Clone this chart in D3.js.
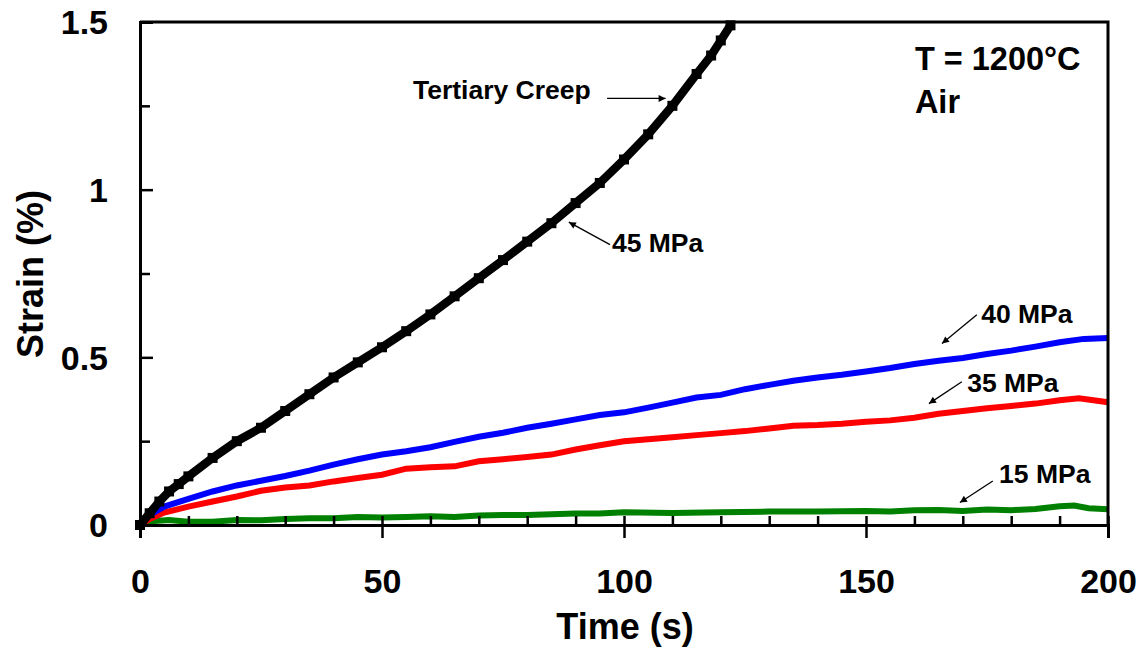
<!DOCTYPE html>
<html>
<head>
<meta charset="utf-8">
<script src="https://d3js.org/d3.v7.min.js"></script>
<style>
  body { margin: 0; background: #fff; }
  text { font-family: "Liberation Sans", Arial, sans-serif; font-weight: bold; fill: #000; }
</style>
</head>
<body>
<div id="chart"></div>
<script>
// strain (%) vs time (s) at 1200 C in air
var time45 = [0, 2, 4, 6, 8, 10, 15, 20, 25, 30, 35, 40, 45, 50, 55, 60, 65, 70, 75, 80, 85, 90, 95, 100, 105, 110, 115, 118, 120, 122];
var strain45 = [0, 0.035, 0.07, 0.1, 0.122, 0.145, 0.2, 0.25, 0.29, 0.34, 0.39, 0.44, 0.485, 0.53, 0.578, 0.628, 0.682, 0.736, 0.79, 0.845, 0.9, 0.96, 1.02, 1.09, 1.165, 1.25, 1.345, 1.40, 1.445, 1.49];

var time40 = [0, 2, 5, 10, 15, 20, 25, 30, 35, 40, 45, 50, 55, 60, 65, 70, 75, 80, 85, 90, 95, 100, 105, 110, 115, 120, 125, 130, 135, 140, 145, 150, 155, 160, 165, 170, 175, 180, 185, 190, 195, 200];
var strain40 = [0, 0.03, 0.055, 0.078, 0.1, 0.118, 0.132, 0.146, 0.162, 0.18, 0.196, 0.21, 0.22, 0.232, 0.248, 0.263, 0.275, 0.29, 0.302, 0.315, 0.328, 0.336, 0.35, 0.365, 0.38, 0.388, 0.405, 0.418, 0.43, 0.44, 0.448, 0.458, 0.468, 0.48, 0.49, 0.498, 0.51, 0.52, 0.532, 0.545, 0.555, 0.558];

var time35 = [0, 2, 5, 10, 15, 20, 25, 30, 35, 40, 45, 50, 55, 60, 65, 70, 75, 80, 85, 90, 95, 100, 105, 110, 115, 120, 125, 130, 135, 140, 145, 150, 155, 160, 165, 170, 175, 180, 185, 190, 194, 197, 200];
var strain35 = [0, 0.018, 0.037, 0.055, 0.07, 0.085, 0.102, 0.112, 0.118, 0.13, 0.14, 0.15, 0.168, 0.172, 0.175, 0.19, 0.196, 0.203, 0.21, 0.225, 0.238, 0.25, 0.256, 0.262, 0.268, 0.274, 0.28, 0.288, 0.296, 0.298, 0.302, 0.308, 0.312, 0.32, 0.332, 0.34, 0.348, 0.355, 0.362, 0.372, 0.378, 0.372, 0.366];

var time15 = [0, 3, 6, 10, 15, 20, 25, 30, 35, 40, 45, 50, 55, 60, 65, 70, 75, 80, 85, 90, 95, 100, 110, 120, 130, 140, 150, 155, 160, 165, 170, 175, 180, 185, 190, 193, 196, 200];
var strain15 = [0, 0.012, 0.015, 0.01, 0.01, 0.015, 0.014, 0.018, 0.02, 0.02, 0.024, 0.022, 0.024, 0.026, 0.024, 0.028, 0.03, 0.03, 0.032, 0.034, 0.034, 0.038, 0.036, 0.038, 0.04, 0.04, 0.042, 0.04, 0.044, 0.045, 0.042, 0.046, 0.044, 0.048, 0.056, 0.058, 0.05, 0.047];

var xTicks = [0, 50, 100, 150, 200];
var yTicks = [0, 0.5, 1, 1.5];
var yTickLabels = ["0", "0.5", "1", "1.5"];

var width = 1146, height = 649;
var margin = {left: 140, right: 38, top: 22, bottom: 124};

var svg = d3.select("#chart").append("svg").attr("width", width).attr("height", height);

var x = d3.scaleLinear().domain([0, 200]).range([margin.left, width - margin.right]);
var y = d3.scaleLinear().domain([0, 1.5]).range([height - margin.bottom, margin.top]);

var series = [
  {t: time15, s: strain15, color: "#008000", w: 6},
  {t: time35, s: strain35, color: "#ff0000", w: 6},
  {t: time40, s: strain40, color: "#0000ff", w: 6},
  {t: time45, s: strain45, color: "#000000", w: 8.5, marker: true}
];

var line = d3.line().x(d => x(d[0])).y(d => y(d[1]));

series.forEach(function(sr) {
  var pts = sr.t.map((t, i) => [t, sr.s[i]]);
  svg.append("path").datum(pts)
    .attr("fill", "none")
    .attr("stroke", sr.color)
    .attr("stroke-width", sr.w)
    .attr("d", line);
  if (sr.marker) {
    svg.selectAll(null).data(pts).enter().append("rect")
      .attr("x", d => x(d[0]) - 5)
      .attr("y", d => y(d[1]) - 5)
      .attr("width", 10).attr("height", 10)
      .attr("fill", sr.color);
  }
});

// frame
var y0 = y(0), x0 = x(0);
svg.append("path")
  .attr("d", "M" + x0 + "," + y(1.5) + "H" + x(200) + "V" + y0)
  .attr("fill", "none").attr("stroke", "#000").attr("stroke-width", 3);

// x axis: major ticks cross the axis, minor ticks inside
svg.append("g").attr("transform", "translate(0," + y0 + ")")
  .call(d3.axisBottom(x).tickValues(d3.range(0, 201, 10)).tickSize(-9).tickFormat(""))
  .call(g => g.selectAll("line").attr("stroke-width", 2.5))
  .call(g => g.select(".domain").remove());
var xa = svg.append("g").attr("transform", "translate(0," + y0 + ")")
  .call(d3.axisBottom(x).tickValues(xTicks).tickSize(13).tickPadding(31).tickFormat(d3.format("d")));
xa.select(".domain").attr("stroke-width", 3);
xa.selectAll("line").attr("stroke-width", 2.5);
xa.selectAll("text").style("font-size", "34px").attr("fill", "#000");

// y axis: ticks inside
svg.append("g").attr("transform", "translate(" + x0 + ",0)")
  .call(d3.axisLeft(y).tickValues([0.25, 0.75, 1.25]).tickSize(-10).tickFormat(""))
  .call(g => g.selectAll("line").attr("stroke-width", 2.5))
  .call(g => g.select(".domain").remove());
var ya = svg.append("g").attr("transform", "translate(" + x0 + ",0)")
  .call(d3.axisLeft(y).tickValues(yTicks).tickSize(-13).tickPadding(32).tickFormat((d, i) => yTickLabels[i]));
ya.select(".domain").attr("stroke-width", 3);
ya.selectAll("line").attr("stroke-width", 2.5);
ya.selectAll("text").style("font-size", "34px").attr("fill", "#000").attr("dy", "0.35em");

// axis titles
svg.append("text").attr("x", (x(0) + x(200)) / 2 + 1).attr("y", 639)
  .attr("text-anchor", "middle").style("font-size", "36px").text("Time (s)");
svg.append("text").attr("transform", "translate(43," + 274 + ") rotate(-90)")
  .attr("text-anchor", "middle").style("font-size", "36px").text("Strain (%)");

// condition labels
svg.append("text").attr("x", x(160.1)).attr("y", y(1.358)).style("font-size", "32.5px").text("T = 1200\u00B0C");
svg.append("text").attr("x", x(160.1)).attr("y", y(1.23)).style("font-size", "32.5px").text("Air");

// annotations with arrows (data units)
var notes = [
  {label: "Tertiary Creep", tx: 56.4, ty: 1.269, x1: 96.5, y1: 1.272, x2: 108.6, y2: 1.272},
  {label: "45 MPa", tx: 97.5, ty: 0.815, x1: 97.1, y1: 0.836, x2: 88.6, y2: 0.903},
  {label: "40 MPa", tx: 173.8, ty: 0.603, x1: 172.9, y1: 0.627, x2: 165.7, y2: 0.541},
  {label: "35 MPa", tx: 170.9, ty: 0.397, x1: 169.8, y1: 0.427, x2: 163.0, y2: 0.362},
  {label: "15 MPa", tx: 177.5, ty: 0.125, x1: 176.2, y1: 0.131, x2: 169.4, y2: 0.067}
];

svg.append("defs").append("marker")
  .attr("id", "arrow").attr("viewBox", "0 0 10 10")
  .attr("refX", 10).attr("refY", 5)
  .attr("markerWidth", 10).attr("markerHeight", 7)
  .attr("markerUnits", "userSpaceOnUse")
  .attr("orient", "auto")
  .append("path").attr("d", "M0,0L10,5L0,10z").attr("fill", "#000");

notes.forEach(function(n) {
  svg.append("text").attr("x", x(n.tx)).attr("y", y(n.ty)).style("font-size", "26.5px").text(n.label);
  svg.append("line")
    .attr("x1", x(n.x1)).attr("y1", y(n.y1))
    .attr("x2", x(n.x2)).attr("y2", y(n.y2))
    .attr("stroke", "#000").attr("stroke-width", 1.3)
    .attr("marker-end", "url(#arrow)");
});
</script>
</body>
</html>
